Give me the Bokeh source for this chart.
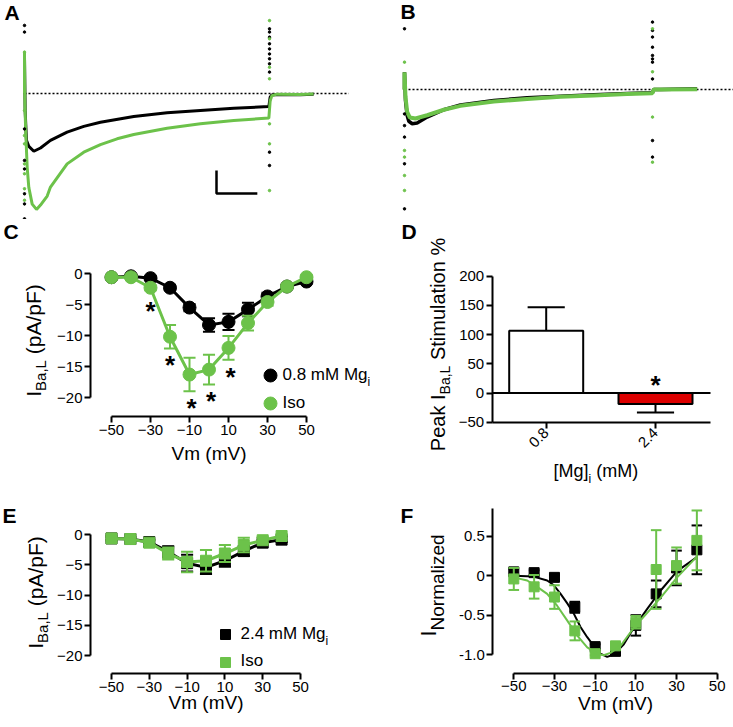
import math
from bokeh.plotting import figure
from bokeh.layouts import column, row
from bokeh.models import Label, FixedTicker
from bokeh.embed import file_html
from bokeh.resources import INLINE

GREEN = "#6cc24a"
RED = "#dd0000"
FONT = "Liberation Sans"
NBSP = "\u00a0"

# ---------------- data ----------------
# Panel A: current traces (time in ms, current in scale-bar units)
a_ctrl_t = [0, 0, 0.8, 2.4, 5.3, 11.4, 19.6, 31.8, 52.2, 72.6, 93.0, 133.8, 174.6, 215.4, 256.2, 299.2, 300.8, 302.9, 309, 337.6, 354]
a_ctrl_i = [0, 1.58, -0.74, -2.04, -2.3, -2.51, -2.37, -2.04, -1.68, -1.43, -1.25, -1.0, -0.84, -0.74, -0.64, -0.57, -0.16, -0.06, -0.04, -0.05, -0.03]
a_iso_t = [0, 0, 0.4, 1.6, 3.3, 5.3, 9.4, 14.7, 19.6, 27.8, 31.8, 52.2, 72.6, 93.0, 113.4, 133.8, 174.6, 215.4, 256.2, 299.2, 300.8, 302.9, 309, 337.6, 354]
a_iso_i = [0, 1.78, -0.32, -1.77, -3.22, -4.09, -4.81, -5.04, -4.85, -4.46, -4.07, -3.06, -2.55, -2.22, -1.97, -1.78, -1.51, -1.32, -1.17, -1.07, -0.32, -0.10, -0.03, -0.04, -0.02]
a_art_ctrl_on = [2.96, 2.67, -1.54, -2.91, -3.28, -4.36, -4.80, -5.45]
a_art_iso_on = [1.80, -0.74, -1.83, -2.19, -3.06, -3.49, -4.14, -4.64]
a_art_ctrl_off = [2.81, 2.67, 2.45, 2.16, 1.94, 1.72, 1.51, 1.29, 0.93, -2.55, -3.13]
a_art_iso_off = [3.17, 2.38, 1.14, 0.64, -1.32, -2.19, -4.22]
a_baseline_t = [0, 397]

# Panel B
b_ctrl_t = [0, 0, 1.2, 3.2, 5.2, 9.3, 15.3, 27.4, 47.6, 67.7, 108.0, 148.3, 188.6, 228.9, 269.2, 299.9, 301.5, 309.6, 354]
b_ctrl_i = [0, 0.75, -0.48, -1.13, -1.38, -1.49, -1.46, -1.20, -0.88, -0.67, -0.48, -0.36, -0.29, -0.23, -0.17, -0.14, 0, 0, 0.03]
b_iso_t = [0, 0, 1.2, 3.2, 6.5, 13.3, 27.4, 47.6, 67.7, 108.0, 148.3, 188.6, 228.9, 269.2, 299.9, 301.5, 309.6, 354]
b_iso_i = [0, 0.75, -0.33, -0.97, -1.22, -1.26, -1.12, -0.88, -0.71, -0.52, -0.41, -0.32, -0.26, -0.20, -0.16, 0, 0, 0.01]
b_art_ctrl_on = [2.64, -1.06, -1.57, -2.07, -3.23, -5.19]
b_art_iso_on = [1.19, -2.65, -2.94, -3.74, -4.39]
b_art_ctrl_off = [2.93, 2.57, 2.28, 1.84, 1.48, 1.33, 1.19, 0.46, -2.22, -2.94]
b_art_iso_off = [2.64, 0.77, -1.20, -3.16]
b_baseline_t = [0, 400]

step_on_ms = 0
step_off_ms = 300
scalebar_ms = 50
scalebar_units = 1

# Panel C: I-V, 0.8 mM Mg
vm_c = [-50, -40, -30, -20, -10, 0, 10, 20, 30, 40, 50]
c_mg08 = [-0.6, -0.45, -0.75, -2.3, -5.5, -8.3, -7.8, -5.8, -3.7, -2.1, -1.3]
c_mg08_err = [0.2, 0.2, 0.3, 0.4, 0.6, 1.1, 1.3, 1.1, 0.6, 0.4, 0.3]
c_iso = [-0.6, -0.6, -2.3, -10.2, -16.3, -15.5, -12.0, -8.0, -4.6, -2.1, -0.6]
c_iso_err = [0.2, 0.2, 0.4, 1.9, 2.7, 2.4, 1.9, 1.2, 0.6, 0.4, 0.3]
c_star_vm = [-30, -20, -9, 1, 11]
c_star_y = [-5.3, -14.1, -20.9, -19.9, -15.9]

# Panel D: peak stimulation
mg_conc = ["0.8", "2.4"]
stim = [106.7, -18.8]
stim_err = [40.0, 14.5]
stim_star_y = 21

# Panel E: I-V, 2.4 mM Mg
vm_e = [-50, -40, -30, -20, -10, 0, 10, 20, 30, 40]
e_mg24 = [-0.6, -0.7, -1.2, -2.8, -4.7, -5.4, -4.3, -2.7, -1.3, -0.8]
e_mg24_err = [0.3, 0.3, 0.4, 0.9, 1.4, 1.1, 1.0, 0.8, 0.4, 0.4]
e_iso = [-0.6, -0.7, -1.3, -3.1, -4.5, -4.3, -3.1, -1.7, -0.9, -0.2]
e_iso_err = [0.3, 0.3, 0.4, 1.0, 1.7, 1.8, 1.4, 1.2, 0.5, 0.3]

# Panel F: normalized I-V with fits
vm_f = [-50, -40, -30, -20, -10, 0, 10, 20, 30, 40]
f_mg24 = [0.05, 0.04, -0.02, -0.40, -0.90, -0.96, -0.63, -0.23, 0.10, 0.33]
f_mg24_err = [0.04, 0.03, 0.03, 0.07, 0.03, 0.03, 0.13, 0.17, 0.22, 0.31]
f_iso = [-0.04, -0.14, -0.27, -0.70, -0.99, -0.89, -0.59, 0.08, 0.13, 0.45]
f_iso_err = [0.14, 0.15, 0.15, 0.12, 0.02, 0.03, 0.08, 0.50, 0.23, 0.38]
fit_mg24_vm = [-50, -40.2, -33.6, -30.3, -27, -23.7, -20.5, -17.2, -13.9, -10.7, -7.4, -4.1, -0.8, 4.1, 9.0, 15.6, 22.1, 30.3, 40.2]
fit_mg24_y = [0, -0.01, -0.06, -0.12, -0.23, -0.35, -0.48, -0.65, -0.78, -0.89, -0.99, -1.03, -1.0, -0.87, -0.66, -0.42, -0.19, 0.06, 0.24]
fit_iso_vm = [-50, -43.4, -38.5, -33.6, -28.7, -23.7, -18.8, -13.9, -9.0, -5.8, -2.5, 2.5, 9.0, 15.6, 22.1, 30.3, 40.2]
fit_iso_y = [-0.02, -0.06, -0.14, -0.23, -0.38, -0.57, -0.76, -0.91, -0.99, -1.01, -0.98, -0.89, -0.66, -0.47, -0.28, -0.02, 0.25]

# ---------------- helpers ----------------
AW = {' ': 278, NBSP: 278, '%': 889, '(': 333, ')': 333, ',': 278, '-': 333, '.': 278, '/': 278,
      'A': 667, 'B': 667, 'F': 611, 'I': 278, 'L': 556, 'M': 833, 'N': 722, 'P': 667, 'S': 667,
      'V': 667, '[': 278, ']': 278, 'a': 556, 'd': 556, 'e': 556, 'g': 556, 'i': 222, 'k': 500,
      'l': 222, 'm': 833, 'n': 556, 'o': 556, 'p': 556, 'r': 333, 's': 500, 't': 278, 'u': 556, 'z': 500}

HFIX = 0.4  # observed downward offset (in em) of horizontal labels; compensate


def tw(s, size):
    return sum(AW.get(c, 556) for c in s) * size / 1000.0


class Panel:
    """A figure whose frame covers its whole canvas; pixel <-> data given by two reference pairs."""

    def __init__(self, ox, oy, W, H, xmap, ymap):
        (xpa, xda, xpb, xdb), (ypa, yda, ypb, ydb) = xmap, ymap
        self.kx = (xdb - xda) / (xpb - xpa)
        self.x0 = xda - xpa * self.kx
        self.ky = (ydb - yda) / (ypb - ypa)
        self.y0 = yda - ypa * self.ky
        xr = (self.fx(ox), self.fx(ox + W))
        yr = (self.fy(oy + H), self.fy(oy))
        p = figure(frame_width=W, frame_height=H, x_range=xr, y_range=yr,
                   output_backend="svg", toolbar_location=None, title=None,
                   min_border=0, min_border_left=0, min_border_right=0,
                   min_border_top=0, min_border_bottom=0)
        p.grid.visible = False
        p.outline_line_color = None
        p.background_fill_color = "white"
        p.border_fill_color = "white"
        self.p = p

    def fx(self, px):
        return self.x0 + px * self.kx

    def fy(self, py):
        return self.y0 + py * self.ky

    def label(self, px, py, text, size, bold=False, align="left", angle=0, color="black"):
        text = text.replace(" ", NBSP)
        if angle == 0:
            py = py - HFIX * size
        self.p.add_layout(Label(x=self.fx(px), y=self.fy(py), text=text, angle=angle,
                                text_font=FONT, text_font_size=f"{size}px",
                                text_font_style="bold" if bold else "normal",
                                text_align=align, text_baseline="alphabetic", text_color=color))

    def rich(self, px, py, parts, rotated=False, center=False):
        total = sum(tw(t, s) for t, s, _ in parts)
        pos = -total / 2 if center else 0
        for t, s, shift in parts:
            if rotated:
                self.label(px + shift, py - pos, t, s, angle=math.pi / 2)
            else:
                self.label(px + pos, py + shift, t, s)
            pos += tw(t, s)

    def hide_axes(self):
        self.p.axis.visible = False

    def style_axes(self, xaxis_px, yaxis_px, xticks, yticks, xbounds, ybounds):
        p = self.p
        xa, ya = p.xaxis[0], p.yaxis[0]
        xa.fixed_location = self.fy(xaxis_px)
        ya.fixed_location = self.fx(yaxis_px)
        for ax in (xa, ya):
            ax.axis_line_width = 2
            ax.axis_line_color = "black"
            ax.major_tick_line_width = 2
            ax.major_tick_line_color = "black"
            ax.major_tick_out = 6
            ax.major_tick_in = 0
            ax.minor_tick_out = 0
            ax.minor_tick_in = 0
            ax.major_label_text_font = FONT
            ax.major_label_text_font_size = "15px"
            ax.major_label_text_color = "black"
            ax.major_label_standoff = 2
        xa.ticker = FixedTicker(ticks=xticks)
        ya.ticker = FixedTicker(ticks=yticks)
        xa.bounds = xbounds
        ya.bounds = ybounds

    def star(self, x, y, size=26):
        # x, y: data position of the asterisk's visual centre
        py = (y - self.y0) / self.ky + 0.57 * size
        self.label((x - self.x0) / self.kx, py, "*", size, bold=True, align="center")


def errbars(p, x, y, e, color, cap, lw=2, one_sided=False):
    x0, y0, x1, y1 = [], [], [], []
    for xi, yi, ei in zip(x, y, e):
        if one_sided:
            lo, hi = yi, yi + (ei if yi >= 0 else -ei)
            ends = [hi]
        else:
            lo, hi = yi - ei, yi + ei
            ends = [lo, hi]
        x0.append(xi); y0.append(lo); x1.append(xi); y1.append(hi)
        for en in ends:
            x0.append(xi - cap); y0.append(en); x1.append(xi + cap); y1.append(en)
    p.segment(x0, y0, x1, y1, line_color=color, line_width=lw)


ROW1, ROW2 = 219, 488

# ---------------- Panel A ----------------
A = Panel(0, 0, 385, ROW1, (24, 0, 269, 300), (93, 0, 116, -1))
A.hide_axes()
pa = A.p
pa.line(a_baseline_t, [0, 0], line_color="black", line_width=1.6, line_dash="2 2")
pa.line(a_ctrl_t, a_ctrl_i, line_color="black", line_width=3)
pa.line(a_iso_t, a_iso_i, line_color=GREEN, line_width=3)
pa.scatter([step_on_ms] * len(a_art_ctrl_on), a_art_ctrl_on, size=2.5, color="black")
pa.scatter([step_on_ms] * len(a_art_iso_on), a_art_iso_on, size=2.5, color=GREEN)
pa.scatter([step_off_ms] * len(a_art_ctrl_off), a_art_ctrl_off, size=2.5, color="black")
pa.scatter([step_off_ms] * len(a_art_iso_off), a_art_iso_off, size=2.5, color=GREEN)
sb_t0, sb_i0 = A.fx(216), A.fy(193)
pa.line([sb_t0, sb_t0, sb_t0 + scalebar_ms], [sb_i0 + scalebar_units, sb_i0, sb_i0], line_color="black", line_width=2.5)
A.label(4, 20, "A", 21, bold=True)

# ---------------- Panel B ----------------
B = Panel(385, 0, 348, ROW1, (404, 0, 652, 300), (89, 0, 112, -1))
B.hide_axes()
pb = B.p
pb.line(b_baseline_t, [0, 0], line_color="black", line_width=1.6, line_dash="2 2")
pb.line(b_ctrl_t, b_ctrl_i, line_color="black", line_width=3.5)
pb.line(b_iso_t, b_iso_i, line_color=GREEN, line_width=4)
pb.scatter([step_on_ms] * len(b_art_ctrl_on), b_art_ctrl_on, size=2.5, color="black")
pb.scatter([step_on_ms] * len(b_art_iso_on), b_art_iso_on, size=2.5, color=GREEN)
pb.scatter([step_off_ms] * len(b_art_ctrl_off), b_art_ctrl_off, size=2.5, color="black")
pb.scatter([step_off_ms] * len(b_art_iso_off), b_art_iso_off, size=2.5, color=GREEN)
B.label(400, 19, "B", 21, bold=True)

# ---------------- Panel C ----------------
C = Panel(0, ROW1, 385, ROW2 - ROW1, (111, -50, 306, 50), (273, 0, 397, -20))
pc = C.p
C.style_axes(416, 90, [-50, -30, -10, 10, 30, 50], [-20, -15, -10, -5, 0], (-50, 50), (-20, 0))
pc.line(vm_c, c_mg08, line_color="black", line_width=3)
errbars(pc, vm_c, c_mg08, c_mg08_err, "black", 3.1)
pc.scatter(vm_c, c_mg08, size=13, color="black")
pc.line(vm_c, c_iso, line_color=GREEN, line_width=3)
errbars(pc, vm_c, c_iso, c_iso_err, GREEN, 3.1)
pc.scatter(vm_c, c_iso, size=13, color=GREEN)
for sx, sy in zip(c_star_vm, c_star_y):
    C.star(sx, sy)
pc.scatter([C.fx(270), C.fx(270)], [C.fy(375), C.fy(403)], size=13, color=["black", GREEN])
C.rich(282, 381, [("0.8 mM Mg", 17, 0), ("i", 12, 5)])
C.label(282, 409, "Iso", 17)
C.rich(33, 340, [("I", 21, 0), ("Ba,L", 15, 7), (" (pA/pF)", 21, 0)], rotated=True, center=True)
C.rich(208.5, 461, [("Vm (mV)", 19, 0)], center=True)
C.label(3, 239, "C", 21, bold=True)

# ---------------- Panel D ----------------
D = Panel(385, ROW1, 348, ROW2 - ROW1, (545.7, 1, 655, 2), (392.5, 0, 275.7, 200))
pd = D.p
D.style_axes(421.7, 491.7, [1, 2], [-50, 0, 50, 100, 150, 200], (D.fx(491.7), D.fx(710)), (-50, 200))
pd.xaxis[0].major_label_overrides = {1: mg_conc[0], 2: mg_conc[1]}
pd.xaxis[0].major_label_orientation = math.pi / 4
xs = [1, 2]
pd.line([D.fx(491.7), D.fx(710)], [0, 0], line_color="black", line_width=2)
errbars(pd, xs, stim, stim_err, "black", 0.17, one_sided=True)
pd.vbar(x=xs, top=stim, bottom=0, width=0.677, fill_color=["white", RED], line_color="black", line_width=2)
D.star(2, stim_star_y)
D.rich(437, 344, [("Peak I", 20, 0), ("Ba,L", 14, 7), (" Stimulation %", 20, 0)], rotated=True, center=True)
D.rich(553, 478, [("[Mg]", 18, 0), ("i", 12, 5), (" (mM)", 18, 0)])
D.label(401, 239, "D", 21, bold=True)

# ---------------- Panel E ----------------
E = Panel(0, ROW2, 385, 727 - ROW2, (111, -50, 300, 50), (534.3, 0, 655, -20))
pe = E.p
E.style_axes(673.3, 90, [-50, -30, -10, 10, 30, 50], [-20, -15, -10, -5, 0], (-50, 50), (-20, 0))
pe.line(vm_e, e_mg24, line_color="black", line_width=3)
errbars(pe, vm_e, e_mg24, e_mg24_err, "black", 3.2)
pe.scatter(vm_e, e_mg24, size=11, marker="square", color="black")
pe.line(vm_e, e_iso, line_color=GREEN, line_width=3)
errbars(pe, vm_e, e_iso, e_iso_err, GREEN, 3.2)
pe.scatter(vm_e, e_iso, size=11, marker="square", color=GREEN)
pe.scatter([E.fx(225), E.fx(225)], [E.fy(634), E.fy(662)], size=10, marker="square", color=["black", GREEN])
E.rich(240, 640, [("2.4 mM Mg", 17, 0), ("i", 12, 5)])
E.label(240, 667, "Iso", 17)
E.rich(35, 592, [("I", 21, 0), ("Ba,L", 15, 7), (" (pA/pF)", 21, 0)], rotated=True, center=True)
E.rich(205.5, 710, [("Vm (mV)", 19, 0)], center=True)
E.label(2, 523, "E", 21, bold=True)

# ---------------- Panel F ----------------
F = Panel(385, ROW2, 348, 727 - ROW2, (513.3, -50, 716.7, 50), (575.3, 0, 654, -1))
pf = F.p
F.style_axes(672.7, 492.3, [-50, -30, -10, 10, 30, 50], [-1.0, -0.5, 0, 0.5], (-50, 50), (-1.0, F.fy(508.3)))
pf.yaxis[0].major_label_overrides = {-1.0: "-1.0", -0.5: "-0.5", 0: "0", 0.5: "0.5"}
errbars(pf, vm_f, f_mg24, f_mg24_err, "black", 2.6)
pf.scatter(vm_f, f_mg24, size=10, marker="square", color="black")
pf.line(fit_mg24_vm, fit_mg24_y, line_color="black", line_width=2)
errbars(pf, vm_f, f_iso, f_iso_err, GREEN, 2.6)
pf.scatter(vm_f, f_iso, size=10, marker="square", color=GREEN)
pf.line(fit_iso_vm, fit_iso_y, line_color=GREEN, line_width=2)
F.rich(428, 585, [("I", 22, 0), ("Normalized", 19, 9)], rotated=True, center=True)
F.rich(615, 711, [("Vm (mV)", 19, 0)], center=True)
F.label(400, 523, "F", 21, bold=True)

layout = column(row(A.p, B.p), row(C.p, D.p), row(E.p, F.p))
open("out.html", "w").write(file_html(layout, INLINE))
